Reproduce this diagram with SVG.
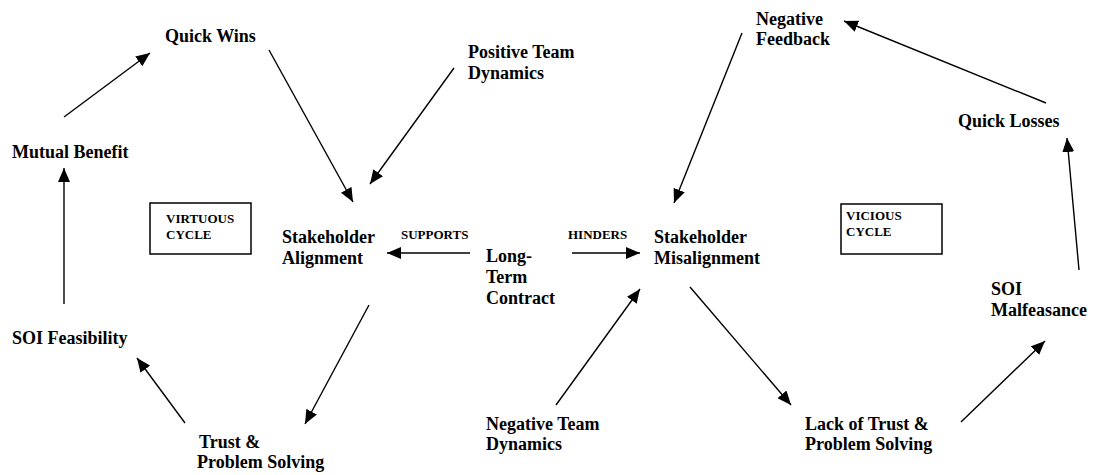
<svg xmlns="http://www.w3.org/2000/svg" width="1094" height="475" viewBox="0 0 1094 475">
<style>
.t{font-family:"Liberation Serif","Times New Roman",serif;font-weight:bold;font-size:18px;fill:#000}
.s{font-family:"Liberation Serif","Times New Roman",serif;font-weight:bold;font-size:13px;fill:#000}
.c line{stroke:#000;stroke-width:1.4;marker-end:url(#ah)}
.box{fill:#fff;stroke:#000;stroke-width:1.5}
</style>
<defs>
<marker id="ah" markerUnits="userSpaceOnUse" markerWidth="15" markerHeight="12" refX="14" refY="6" orient="auto">
<path d="M0,0 L14,6 L0,12 z" fill="#000"/>
</marker>
</defs>
<rect width="1094" height="475" fill="#fff"/>
<g id="connectors" class="c">
<line x1="64" y1="117" x2="150" y2="53"/>
<line x1="269" y1="50" x2="353" y2="202"/>
<line x1="454" y1="68" x2="370" y2="184"/>
<line x1="64" y1="304" x2="64" y2="168"/>
<line x1="369" y1="305" x2="305" y2="424"/>
<line x1="185" y1="423" x2="137" y2="358"/>
<line x1="470" y1="253" x2="387" y2="253"/>
<line x1="572" y1="253" x2="640" y2="253"/>
<line x1="742" y1="33" x2="674" y2="203"/>
<line x1="556" y1="405" x2="640" y2="289"/>
<line x1="690" y1="287" x2="791" y2="405"/>
<line x1="961" y1="422" x2="1045" y2="341"/>
<line x1="1079" y1="270" x2="1067" y2="138"/>
<line x1="1046" y1="103" x2="844" y2="21"/>
</g>
<g id="quick-wins"><text class="t" x="165" y="42">Quick Wins</text></g>
<g id="mutual-benefit"><text class="t" x="12" y="158">Mutual Benefit</text></g>
<g id="positive-team-dynamics"><text class="t" x="468" y="58">Positive Team</text><text class="t" x="468" y="79">Dynamics</text></g>
<g id="virtuous-cycle"><rect class="box" x="150" y="203" width="101" height="51"/><text class="s" x="166" y="223">VIRTUOUS</text><text class="s" x="166" y="239">CYCLE</text></g>
<g id="stakeholder-alignment"><text class="t" x="282" y="243">Stakeholder</text><text class="t" x="282" y="264">Alignment</text></g>
<g id="supports-label"><text class="s" x="401" y="239">SUPPORTS</text></g>
<g id="long-term-contract"><text class="t" x="486" y="262">Long-</text><text class="t" x="486" y="283">Term</text><text class="t" x="486" y="304">Contract</text></g>
<g id="hinders-label"><text class="s" x="568" y="239">HINDERS</text></g>
<g id="stakeholder-misalignment"><text class="t" x="654" y="243">Stakeholder</text><text class="t" x="654" y="264">Misalignment</text></g>
<g id="soi-feasibility"><text class="t" x="12" y="344">SOI Feasibility</text></g>
<g id="trust-problem-solving"><text class="t" x="199" y="448">Trust &amp;</text><text class="t" x="197" y="468">Problem Solving</text></g>
<g id="negative-team-dynamics"><text class="t" x="486" y="430">Negative Team</text><text class="t" x="486" y="450">Dynamics</text></g>
<g id="lack-of-trust"><text class="t" x="805" y="430">Lack of Trust &amp;</text><text class="t" x="805" y="450">Problem Solving</text></g>
<g id="soi-malfeasance"><text class="t" x="991" y="295">SOI</text><text class="t" x="991" y="316">Malfeasance</text></g>
<g id="quick-losses"><text class="t" x="958" y="127">Quick Losses</text></g>
<g id="negative-feedback"><text class="t" x="756" y="25">Negative</text><text class="t" x="756" y="45">Feedback</text></g>
<g id="vicious-cycle"><rect class="box" x="841" y="204" width="101" height="50"/><text class="s" x="846" y="220">VICIOUS</text><text class="s" x="846" y="236">CYCLE</text></g>
</svg>
